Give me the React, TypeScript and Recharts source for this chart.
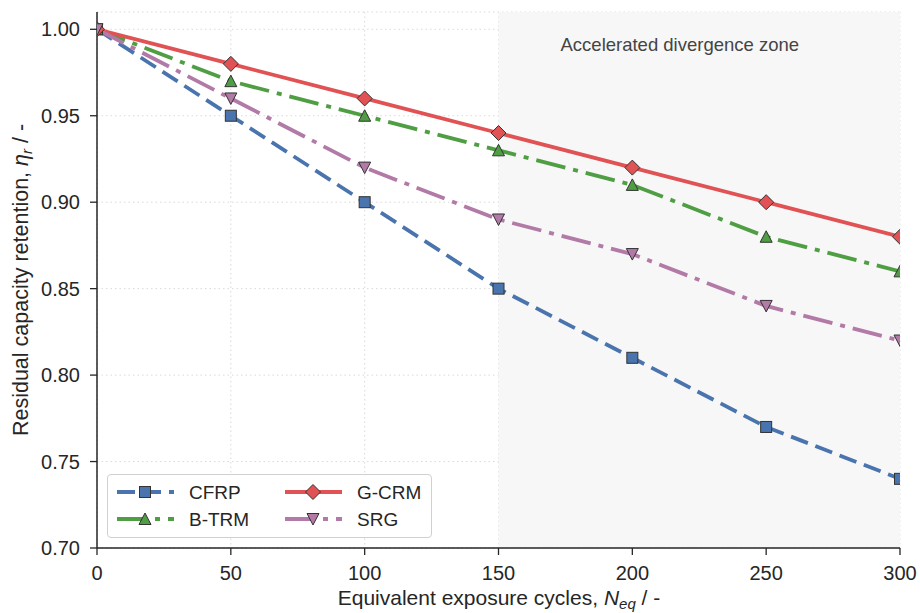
import React from "react";
import {
  LineChart,
  Line,
  XAxis,
  YAxis,
  CartesianGrid,
  ReferenceArea,
} from "recharts";

const cycles = [0, 50, 100, 150, 200, 250, 300];
const cfrp = [1.0, 0.95, 0.9, 0.85, 0.81, 0.77, 0.74];
const gcrm = [1.0, 0.98, 0.96, 0.94, 0.92, 0.9, 0.88];
const btrm = [1.0, 0.97, 0.95, 0.93, 0.91, 0.88, 0.86];
const srg = [1.0, 0.96, 0.92, 0.89, 0.87, 0.84, 0.82];

const xTicks = [0, 50, 100, 150, 200, 250, 300];
const yTicks = [0.7, 0.75, 0.8, 0.85, 0.9, 0.95, 1.0];

const data = cycles.map((c, i) => ({
  cycles: c,
  cfrp: cfrp[i],
  gcrm: gcrm[i],
  btrm: btrm[i],
  srg: srg[i],
}));

type Marker = "square" | "diamond" | "up" | "down";

const series: { key: string; name: string; color: string; dash?: string; marker: Marker }[] = [
  { key: "cfrp", name: "CFRP", color: "#4a74ad", dash: "18 8", marker: "square" },
  { key: "btrm", name: "B-TRM", color: "#4f9e43", dash: "30 8 5 8", marker: "up" },
  { key: "gcrm", name: "G-CRM", color: "#e05253", marker: "diamond" },
  { key: "srg", name: "SRG", color: "#b27aa6", dash: "30 8 5 8", marker: "down" },
];

const FONT = '"Liberation Sans", Arial, sans-serif';
const INK = "#262626";

function markerShape(kind: Marker, cx: number, cy: number, color: string, key?: string | number) {
  const edge = { stroke: "#333", strokeWidth: 1, fill: color };
  if (kind === "square") return <rect key={key} x={cx - 5.5} y={cy - 5.5} width={11} height={11} {...edge} />;
  if (kind === "diamond")
    return <polygon key={key} points={`${cx},${cy - 7.5} ${cx + 7.5},${cy} ${cx},${cy + 7.5} ${cx - 7.5},${cy}`} {...edge} />;
  if (kind === "up")
    return <polygon key={key} points={`${cx},${cy - 6} ${cx + 6},${cy + 5.5} ${cx - 6},${cy + 5.5}`} {...edge} />;
  return <polygon key={key} points={`${cx},${cy + 6} ${cx + 6},${cy - 5.5} ${cx - 6},${cy - 5.5}`} {...edge} />;
}

function LegendBox() {
  const cols = [
    [series[0], series[1]],
    [series[2], series[3]],
  ];
  return (
    <div
      style={{
        position: "absolute",
        left: 107,
        top: 474,
        width: 325,
        height: 64,
        border: "1px solid #d0d0d0",
        borderRadius: 4,
        background: "rgba(255,255,255,0.9)",
        boxSizing: "border-box",
      }}
    >
      <svg width={325} height={64} style={{ position: "absolute", left: -1, top: -1 }}>
        {cols.map((col, ci) =>
          col.map((s, ri) => {
            const x0 = ci === 0 ? 10 : 178;
            const y = ri === 0 ? 18 : 45;
            return (
              <g key={s.key}>
                <line x1={x0} x2={x0 + 57} y1={y} y2={y} stroke={s.color} strokeWidth={3.8} strokeDasharray={s.dash} />
                {markerShape(s.marker, x0 + 28, y, s.color)}
                <text x={x0 + 72} y={y + 7} fontSize={19} fill={INK} fontFamily={FONT}>
                  {s.name}
                </text>
              </g>
            );
          })
        )}
      </svg>
    </div>
  );
}

export default function App() {
  return (
    <div style={{ position: "absolute", left: 0, top: 0, width: 920, height: 613, background: "#fff", fontFamily: FONT }}>
      <LineChart width={920} height={613} data={data} margin={{ top: 12, right: 20, left: 0, bottom: 0 }}>
        <ReferenceArea x1={150} x2={300} y1={0.7} y2={1.01} fill="#f7f7f7" fillOpacity={1} stroke="none" ifOverflow="hidden"
          label={(p: any) => {
            const vb = p.viewBox || {};
            return (
              <text x={(vb.x ?? 498) + 62} y={51} fontSize={18.5} fill="#444" fontFamily={FONT}>
                Accelerated divergence zone
              </text>
            );
          }}
        />
        <CartesianGrid stroke="#d9d9d9" strokeDasharray="1.5 3" strokeWidth={1} />
        <XAxis
          dataKey="cycles"
          type="number"
          domain={[0, 300]}
          ticks={xTicks}
          interval={0}
          allowDataOverflow
          height={65}
          tickSize={7}
          tickMargin={11}
          tick={{ fontSize: 20, fill: INK, fontFamily: FONT }}
          tickLine={{ stroke: INK, strokeWidth: 1.3 }}
          axisLine={{ stroke: INK, strokeWidth: 1.5 }}
          label={() => (
            <text x={499} y={605} textAnchor="middle" fontSize={21} fill={INK} fontFamily={FONT}>
              Equivalent exposure cycles,{" "}
              <tspan fontStyle="italic">N</tspan>
              <tspan fontStyle="italic" fontSize={15} dy={4}>eq</tspan>
              <tspan dy={-4}> / -</tspan>
            </text>
          )}
        />
        <YAxis
          type="number"
          domain={[0.7, 1.01]}
          ticks={yTicks}
          interval={0}
          allowDataOverflow
          width={97}
          tickSize={7}
          tickMargin={10}
          tickFormatter={(v: number) => v.toFixed(2)}
          tick={{ fontSize: 20, fill: INK, fontFamily: FONT }}
          tickLine={{ stroke: INK, strokeWidth: 1.3 }}
          axisLine={{ stroke: INK, strokeWidth: 1.5 }}
          label={() => (
            <text
              x={0}
              y={0}
              transform="translate(28,280) rotate(-90)"
              textAnchor="middle"
              fontSize={21.5}
              fill={INK}
              fontFamily={FONT}
            >
              Residual capacity retention,{" "}
              <tspan fontStyle="italic">η</tspan>
              <tspan fontStyle="italic" fontSize={15} dy={4}>r</tspan>
              <tspan dy={-4}> / -</tspan>
            </text>
          )}
        />
        {series.map((s) => (
          <Line
            key={s.key}
            dataKey={s.key}
            name={s.name}
            type="linear"
            stroke={s.color}
            strokeWidth={3.8}
            strokeDasharray={s.dash}
            isAnimationActive={false}
            activeDot={false}
            dot={(p: any) => markerShape(s.marker, p.cx, p.cy, s.color, `${s.key}-${p.index}`)}
          />
        ))}
      </LineChart>
      <LegendBox />
    </div>
  );
}
